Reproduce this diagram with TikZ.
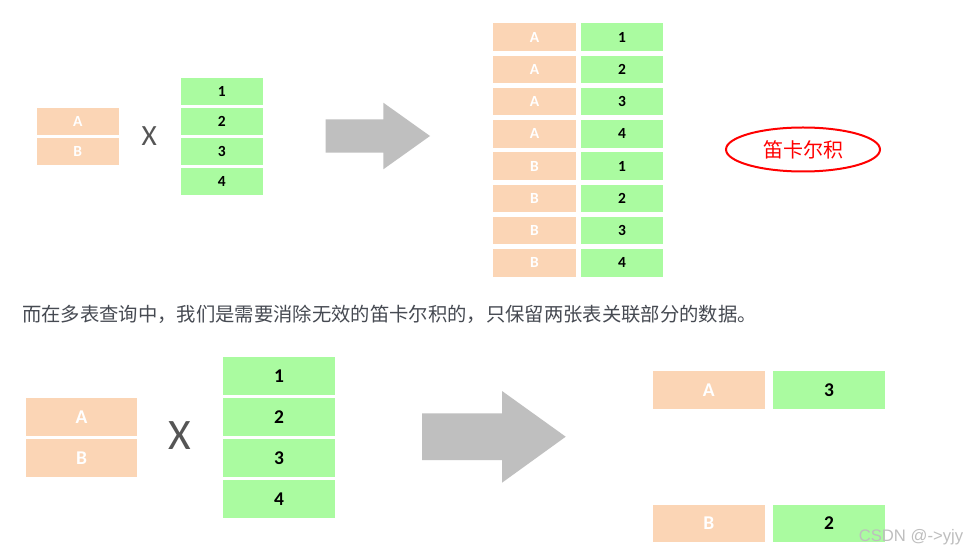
\documentclass[tikz,border=0pt]{standalone}
\usepackage{fontspec}
\setmainfont{Carlito}
\newfontfamily\cjk{Noto Sans CJK SC}
\newfontfamily\wmfont{Liberation Sans}
\usepackage{xcolor}
\usepackage{tikz}
\usetikzlibrary{
  shapes.geometric,
  positioning
}
\definecolor{peach}{RGB}{251,213,181}
\definecolor{mint}{RGB}{170,251,160}
\definecolor{arrowgray}{RGB}{191,191,191}
\definecolor{timesgray}{RGB}{85,85,85}
\definecolor{notegray}{RGB}{70,74,82}
\definecolor{wmgray}{RGB}{190,190,190}

\begin{document}
\begin{tikzpicture}[
  x=0.75pt, y=-0.75pt,
  every node/.style={inner sep=0pt, outer sep=0pt},
  abox/.style={
    rectangle, fill=peach, text=white,
    minimum width=61.7pt, minimum height=20.6pt,
    font=\fontsize{11.6}{12}\selectfont\bfseries
  },
  nbox/.style={
    rectangle, fill=mint, text=black,
    minimum width=61.7pt, minimum height=20.6pt,
    font=\fontsize{11.6}{12}\selectfont\bfseries
  },
  bigabox/.style={abox, minimum width=83.8pt, minimum height=28.3pt,
    font=\fontsize{14.6}{15}\selectfont\bfseries},
  bignbox/.style={nbox, minimum width=83.8pt, minimum height=28.3pt,
    font=\fontsize{14.6}{15}\selectfont\bfseries},
  times/.style={text=timesgray},
  bigarrow/.style={fill=arrowgray}
]
  % Page
  \useasboundingbox[fill=white] (0,0) rectangle (969,555);

  % Top: inputs
  \node[abox] (ta) at (77.7,121.5) {A};
  \node[abox, below=1.9pt of ta] (tb) {B};
  \node[times, font=\fontsize{22}{22}\selectfont] (tx) at (149.3,136) {X};
  \node[nbox] (tn1) at (221.7,91.5) {1};
  \node[nbox, below=1.9pt of tn1] (tn2) {2};
  \node[nbox, below=1.9pt of tn2] (tn3) {3};
  \node[nbox, below=1.9pt of tn3] (tn4) {4};

  % Top arrow
  \fill[bigarrow] (325.7,119.3) -- (383.3,119.3) -- (383.3,102.7) -- (430,136)
    -- (383.3,169.3) -- (383.3,152.7) -- (325.7,152.7) -- cycle;

  % Top: all combinations
  \foreach \l/\n [count=\i] in {A/1,A/2,A/3,A/4,B/1,B/2,B/3,B/4} {
    \node[abox] (ra\i) at (534.5,{37.2+32.25*(\i-1)}) {\l};
    \node[nbox, right=4pt of ra\i] (rn\i) {\n};
  }

  % Label
  \node[ellipse, draw=red, line width=1.5pt, minimum width=115.5pt, minimum height=33pt,
        text=red, font=\cjk\fontsize{15}{15}\selectfont] (cart) at (803,149.5) {笛卡尔积};

  % Note
  \node[anchor=west, text=notegray, font=\cjk\fontsize{14.5}{15}\selectfont]
      (note) at (22,314) {而在多表查询中，我们是需要消除无效的笛卡尔积的，只保留两张表关联部分的数据。};

  % Bottom: inputs
  \node[bigabox] (ba) at (81.5,417.2) {A};
  \node[bigabox, below=2.5pt of ba] (bb) {B};
  \node[times, font=\fontsize{32.6}{33}\selectfont] (bx) at (180,436) {X};
  \node[bignbox] (bn1) at (279,375.8) {1};
  \node[bignbox, below=2.5pt of bn1] (bn2) {2};
  \node[bignbox, below=2.5pt of bn2] (bn3) {3};
  \node[bignbox, below=2.5pt of bn3] (bn4) {4};

  % Bottom arrow
  \fill[bigarrow] (422,413.3) -- (502,413.3) -- (502,391) -- (565.7,436.7)
    -- (502,482.7) -- (502,460) -- (422,460) -- cycle;

  % Bottom: matching rows
  \node[bigabox] (ma) at (708.7,389.8) {A};
  \node[bignbox, right=6.4pt of ma] (mn) {3};
  \node[bigabox] (mb) at (708.7,523.5) {B};
  \node[bignbox, right=6.4pt of mb] (mm) {2};

  % Watermark
  \node[text=wmgray, font=\wmfont\fontsize{12.5}{13}\selectfont] (wm) at (911,537.5) {CSDN @->yjy};
\end{tikzpicture}
\end{document}
